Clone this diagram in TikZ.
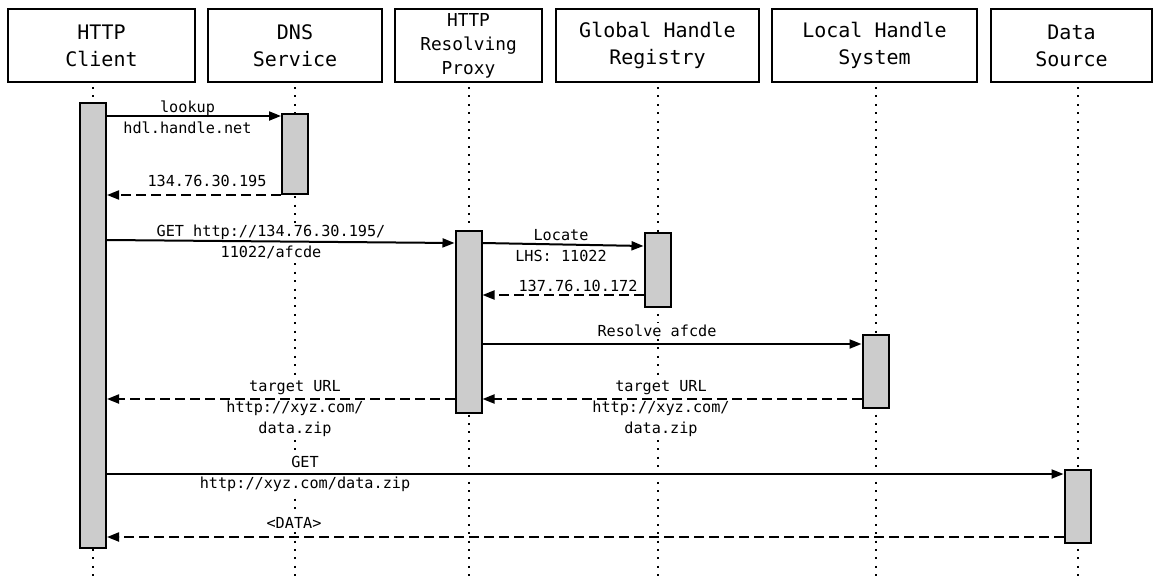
\documentclass[tikz,border=0pt]{standalone}
\usepackage{fontspec}
\setmonofont{DejaVu Sans Mono}
\usepackage{tikz}
\usetikzlibrary{calc,arrows.meta}

\begin{document}
\begin{tikzpicture}[x=0.5pt, y=-0.5pt,
    actor/.style={draw, line width=1pt, align=center, inner sep=0pt,
      minimum height=36.5pt, font=\ttfamily\fontsize{10}{13.5}\selectfont},
    bar/.style={draw, line width=1pt, fill=black!20, minimum width=13pt, inner sep=0pt},
    life/.style={line width=1pt, dash pattern=on 1pt off 3.2pt},
    msg/.style={line width=1pt, -{Triangle[length=6pt,width=4.5pt]}},
    reply/.style={msg, dash pattern=on 5pt off 2.5pt},
    lbl/.style={fill=white, align=center, inner sep=1pt,
      font=\ttfamily\fontsize{7.6}{10.5}\selectfont}]
        \useasboundingbox (0,0) rectangle (1159,578);
        % participants
        \node[actor, minimum width=93.5pt] (client) at (101.5,45.5) {HTTP\\Client};
        \node[actor, minimum width=87pt] (dns) at (295,45.5) {DNS\\Service};
        \node[actor, minimum width=73.5pt, font=\ttfamily\fontsize{8.9}{12}\selectfont] (proxy) at (468.5,45.5) {HTTP\\Resolving\\Proxy};
        \node[actor, minimum width=101.5pt] (ghr) at (657.5,45.5) {Global Handle\\Registry};
        \node[actor, minimum width=102.5pt] (lhs) at (874.5,45.5) {Local Handle\\System};
        \node[actor, minimum width=80.5pt] (src) at (1071.5,45.5) {Data\\Source};
        % lifeline positions
        \coordinate (lc) at (93,87);
        \coordinate (ld) at (295,87);
        \coordinate (lp) at (468.5,87);
        \coordinate (lg) at (657.5,87);
        \coordinate (ll) at (875.5,87);
        \coordinate (ls) at (1077.5,87);
        % lifelines
        \draw[life] (lc) -- (lc |- 0,578);
        \draw[life] (ld) -- (ld |- 0,578);
        \draw[life] (lp) -- (lp |- 0,578);
        \draw[life] (lg) -- (lg |- 0,578);
        \draw[life] (ll) -- (ll |- 0,578);
        \draw[life] (ls) -- (ls |- 0,578);
        % activations
        \node[bar, minimum height=222.5pt] (cbar) at (lc |- 0,325.5) {};
        \node[bar, minimum height=40pt] (dbar) at (ld |- 0,154) {};
        \node[bar, minimum height=91pt] (pbar) at (lp |- 0,322) {};
        \node[bar, minimum height=37pt] (gbar) at (lg |- 0,270) {};
        \node[bar, minimum height=36.5pt] (lbar) at (ll |- 0,371.5) {};
        \node[bar, minimum height=36.5pt] (sbar) at (ls |- 0,506.5) {};
        % labels
        \node[lbl] (t1) at (187.5,117.5) {lookup\\hdl.handle.net};
        \node[lbl] (t2) at (207,181) {134.76.30.195};
        \node[lbl] (t3) at (271,241.5) {GET http://134.76.30.195/\\11022/afcde};
        \node[lbl] (t4) at (561,245.5) {Locate\\LHS: 11022};
        \node[lbl] (t5) at (578,286) {137.76.10.172};
        \node[lbl] (t6) at (657,331) {Resolve afcde};
        \node[lbl] (t7) at (661,409) {target URL\\http://xyz.com/\\data.zip};
        \node[lbl] (t8) at (295,409) {target URL\\http://xyz.com/\\data.zip};
        \node[lbl] (t9) at (305,474) {GET\\http://xyz.com/data.zip};
        \node[lbl] (t10) at (294,523) {<DATA>};
        % messages
        \draw[msg] (cbar.east |- 0,116) -- (dbar.west |- 0,116);
        \draw[reply] (dbar.west |- 0,195) -- (cbar.east |- 0,195);
        \draw[msg] (cbar.east |- 0,240) -- (pbar.west |- 0,243);
        \draw[msg] (pbar.east |- 0,243) -- (gbar.west |- 0,246);
        \draw[reply] (gbar.west |- 0,295) -- (pbar.east |- 0,295);
        \draw[msg] (pbar.east |- 0,344) -- (lbar.west |- 0,344);
        \draw[reply] (lbar.west |- 0,399) -- (pbar.east |- 0,399);
        \draw[reply] (pbar.west |- 0,399) -- (cbar.east |- 0,399);
        \draw[msg] (cbar.east |- 0,474) -- (sbar.west |- 0,474);
        \draw[reply] (sbar.west |- 0,537) -- (cbar.east |- 0,537);
     \end{tikzpicture}
\end{document}
